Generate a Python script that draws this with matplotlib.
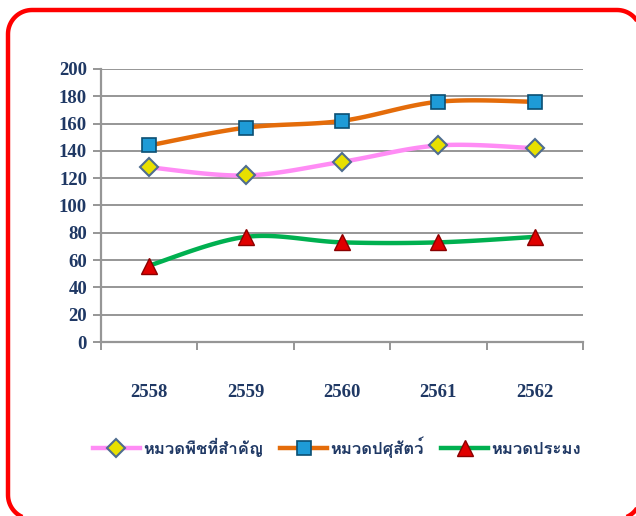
import numpy as np
import matplotlib
matplotlib.use("Agg")
import matplotlib.pyplot as plt
from matplotlib import font_manager
from matplotlib.ft2font import FT2Font
from matplotlib.patches import PathPatch
from matplotlib.path import Path
from matplotlib.lines import Line2D
from matplotlib.transforms import IdentityTransform

years = ["2558", "2559", "2560", "2561", "2562"]
plants = [128, 122, 132, 144, 142]
livestock = [144, 157, 162, 176, 176]
fishery = [56, 77, 73, 73, 77]
labels = ["หมวดพืชที่สำคัญ", "หมวดปศุสัตว์", "หมวดประมง"]
y_ticks = list(range(0, 201, 20))

NAVY = "#1F3864"
GRID = "#969696"


def thai_family():
    """Find an installed family that has Thai glyphs (falls back to DejaVu)."""
    for f in font_manager.fontManager.ttflist:
        try:
            if 0x0E2B in FT2Font(f.fname).get_charmap():
                return f.name
        except Exception:
            continue
    return "DejaVu Sans"


def smooth(x, y, n=30):
    """Catmull-Rom curve through the points, like Excel's smoothed line."""
    x = np.asarray(x, float); y = np.asarray(y, float)
    px = np.r_[x[0], x, x[-1]]; py = np.r_[y[0], y, y[-1]]
    xs, ys = [], []
    t = np.linspace(0, 1, n)
    for i in range(1, len(px) - 2):
        p0, p1, p2, p3 = [np.array([px[j], py[j]]) for j in (i - 1, i, i + 1, i + 2)]
        c1 = p1 + (p2 - p0) / 6
        c2 = p2 - (p3 - p1) / 6
        b = ((1 - t) ** 3)[:, None] * p1 + (3 * (1 - t) ** 2 * t)[:, None] * c1 \
            + (3 * (1 - t) * t ** 2)[:, None] * c2 + (t ** 3)[:, None] * p2
        xs.extend(b[:, 0]); ys.extend(b[:, 1])
    return np.array(xs), np.array(ys)


def rounded_rect(x0, y0, x1, y1, r, n=20):
    """Closed rounded-rectangle path (pixel coords, origin bottom-left)."""
    pts = []
    corners = [(x1 - r, y1 - r, 0), (x0 + r, y1 - r, 90),
               (x0 + r, y0 + r, 180), (x1 - r, y0 + r, 270)]
    for cx, cy, a0 in corners:
        a = np.radians(np.linspace(a0, a0 + 90, n))
        pts.extend(zip(cx + r * np.cos(a), cy + r * np.sin(a)))
    pts.append(pts[0])
    return Path(np.array(pts))


thai = thai_family()
fig = plt.figure(figsize=(6.36, 5.16), dpi=100)
ax = fig.add_axes([0.1588, 0.3372, 0.7579, 0.5291])

series = [
    (plants, "#FF8CF5", dict(marker="D", ms=9, mfc="#E8E000", mec="#4F6D8F", mew=1.5)),
    (livestock, "#E46C0A", dict(marker="s", ms=10, mfc="#1E9BD7", mec="#0B4F73", mew=1.2)),
    (fishery, "#00B050", dict(marker="^", ms=11.5, mfc="#E00000", mec="#8B0000", mew=1.0)),
]
xpos = np.arange(len(years))
handles = []
for vals, color, mk in series:
    sx, sy = smooth(xpos, vals)
    ax.plot(sx, sy, color=color, lw=3.2, solid_capstyle="round", zorder=3)
    ax.plot(xpos, vals, ls="none", zorder=4, **mk)
    handles.append(Line2D([0], [0], color=color, lw=3.2, **mk))

ax.set_xlim(-0.5, len(years) - 0.5)
ax.set_ylim(0, 200)
ax.set_yticks(y_ticks)
ax.set_yticklabels([str(v) for v in y_ticks])
ax.yaxis.grid(True, color=GRID, lw=1.4)
ax.set_axisbelow(True)
ax.set_xticks(np.arange(-0.5, len(years), 1.0))
ax.set_xticklabels([])
ax.set_xticks(xpos, minor=True)
ax.set_xticklabels(years, minor=True)
ax.tick_params(axis="x", which="major", length=6, width=1.4, color=GRID, direction="out")
ax.tick_params(axis="x", which="minor", length=0, pad=30)
ax.tick_params(axis="y", length=6, width=1.4, color=GRID, pad=4)
for lab in ax.get_xticklabels(minor=True) + ax.get_yticklabels():
    lab.set_fontfamily("Liberation Serif")
    lab.set_fontweight("bold")
    lab.set_fontsize(13.5)
    lab.set_color(NAVY)
for s in ("top", "right"):
    ax.spines[s].set_visible(False)
for s in ("left", "bottom"):
    ax.spines[s].set_color(GRID)
    ax.spines[s].set_linewidth(1.6)

leg = fig.legend(handles, labels, loc="center left", bbox_to_anchor=(0.146, 0.134),
                 ncol=3, frameon=False, handlelength=2.8, handletextpad=0.2,
                 columnspacing=1.05, borderaxespad=0, borderpad=0,
                 prop={"family": [thai, "DejaVu Sans"], "weight": "bold", "size": 12})
for t in leg.get_texts():
    t.set_color(NAVY)

# red rounded frame around the chart (pixel coordinates, right/bottom run off the edge)
frame = PathPatch(rounded_rect(8, -3, 641, 506, 24), transform=IdentityTransform(),
                  fill=False, ec="#FF0000", lw=3.2, clip_on=False)
fig.add_artist(frame)

fig.savefig("out.png", dpi=100)
